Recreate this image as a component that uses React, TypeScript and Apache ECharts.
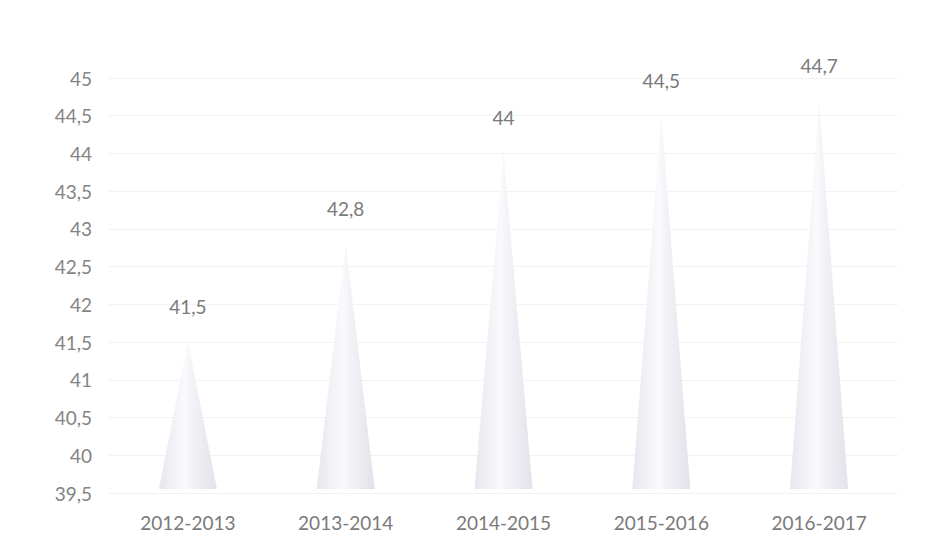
import React, { useEffect, useRef } from "react";
import * as echarts from "echarts";

const categories = ["2012-2013", "2013-2014", "2014-2015", "2015-2016", "2016-2017"];
const values = [41.5, 42.8, 44, 44.5, 44.7];
const yMin = 39.5;
const yMax = 45;
const yStep = 0.5;

const fmt = (v: number) => String(v).replace(".", ",");

export default function App() {
  const ref = useRef<HTMLDivElement>(null);
  useEffect(() => {
    if (!ref.current) return;
    const chart = echarts.init(ref.current, undefined, { renderer: "svg" });
    const font = "Lato, 'Liberation Sans', sans-serif";
    const coneFill = new echarts.graphic.LinearGradient(0, 0, 1, 0, [
      { offset: 0, color: "#e6e6ee" },
      { offset: 0.45, color: "#fafafd" },
      { offset: 0.6, color: "#f1f1f6" },
      { offset: 1, color: "#e2e2ea" },
    ]);
    chart.setOption({
      animation: false,
      backgroundColor: "#ffffff",
      grid: { left: 109, right: 28, top: 78, bottom: 54, containLabel: false },
      xAxis: {
        type: "category",
        data: categories,
        axisLine: { show: false },
        axisTick: { show: false },
        axisLabel: { color: "#7a7a7a", fontSize: 19, fontFamily: font, margin: 20 },
      },
      yAxis: {
        type: "value",
        min: yMin,
        max: yMax,
        interval: yStep,
        axisLine: { show: false },
        axisTick: { show: false },
        splitLine: { show: true, lineStyle: { color: "#f2f2f2", width: 1 } },
        axisLabel: {
          color: "#848484",
          fontSize: 19,
          fontFamily: font,
          margin: 17,
          formatter: (v: number) => fmt(v),
        },
      },
      series: [
        {
          type: "custom",
          data: values.map((v, i) => [i, v]),
          encode: { x: 0, y: 1 },
          renderItem: (params: any, api: any) => {
            const idx = api.value(0);
            const val = api.value(1);
            const tip = api.coord([idx, val]);
            const base = api.coord([idx, yMin]);
            const half = 29;
            return {
              type: "group",
              children: [
                {
                  type: "polygon",
                  shape: {
                    points: [
                      [tip[0], tip[1]],
                      [base[0] + half, base[1] - 4],
                      [base[0] - half, base[1] - 4],
                    ],
                  },
                  style: { fill: coneFill },
                },
                {
                  type: "text",
                  x: tip[0],
                  y: tip[1] - 26,
                  style: {
                    text: fmt(val),
                    fill: "#7a7a7a",
                    fontSize: 19,
                    fontFamily: font,
                    align: "center",
                    verticalAlign: "bottom",
                  },
                },
              ],
            };
          },
        },
      ],
    });
    return () => chart.dispose();
  }, []);
  return (
    <div
      ref={ref}
      style={{ position: "fixed", left: 0, top: 0, width: 926, height: 547, background: "#fff" }}
    />
  );
}
